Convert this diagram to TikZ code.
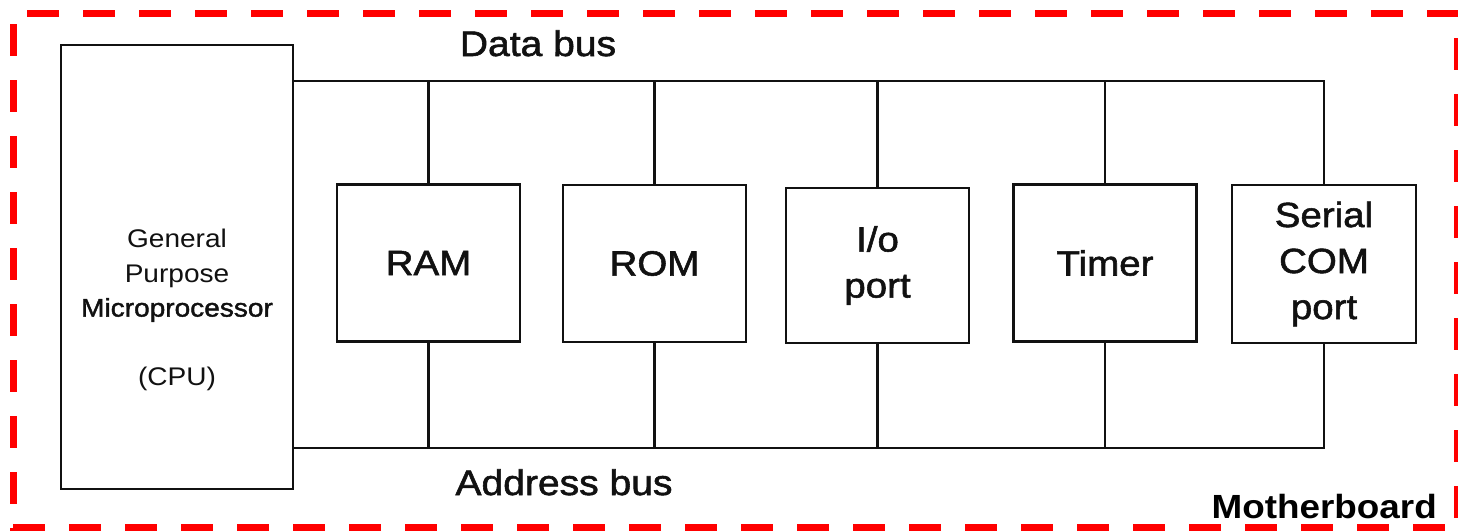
\documentclass[tikz,border=0pt]{standalone}
\usepackage{fontspec}
\setmainfont{Liberation Sans}[FakeStretch=1.1]
\newfontfamily\medfont{Liberation Sans}[FakeStretch=1.1, FakeBold=1.6]
\definecolor{ink}{HTML}{111111}
\definecolor{mbred}{HTML}{FF0000}
\begin{document}
\begin{tikzpicture}[x=1pt,y=-1pt,
  unit/.style={draw=ink, line width=2.6pt, minimum width=183pt, minimum height=157pt,
    inner sep=0pt, align=center, font=\medfont\fontsize{35}{46}\selectfont, text=ink},
  bus/.style={draw=ink, line width=2.2pt},
  frame/.style={draw=mbred, line width=7pt, dash pattern=on 32pt off 24pt},
  lbl/.style={text=ink, inner sep=0pt, font=\medfont\fontsize{35.5}{40}\selectfont}
]
\useasboundingbox (0,0) rectangle (1458,530);

% motherboard frame
\draw[frame] (27,13) -- (1460,13);
\draw[frame] (13,24) -- (13,532);
\draw[frame] (13,527) -- (1460,527);
\draw[frame] (1457,38) -- (1457,532);

% CPU
\node[draw=ink, line width=2.6pt, minimum width=232pt, minimum height=444pt, inner sep=0pt] (cpu) at (177,267) {};
\node[text=ink, align=center, inner sep=0pt, font=\fontsize{25.5}{34.5}\selectfont] (cpulbl) at (177,310)
  {General\\Purpose\\{\medfont Microprocessor}\\[34.5pt](CPU)};

% units
\node[unit] (ram) at (428.5,263) {RAM};
\node[unit] (rom) at (654.5,263.5) {ROM};
\node[unit, minimum height=155pt] (io) at (877.5,265.5) {I/o\\port};
\node[unit] (tim) at (1105,263) {Timer};
\node[unit, minimum width=184pt, minimum height=158pt] (ser) at (1324,264) {Serial\\COM\\port};

% bus levels
\coordinate (dbl) at (0,81);
\coordinate (abl) at (0,448);

% data bus
\draw[bus] (cpu.east |- dbl) -- (ser.north |- dbl) -- (ser.north);
\foreach \u in {ram,rom,io,tim}
  \draw[bus] (\u.north) -- (\u.north |- dbl);
% address bus
\draw[bus] (cpu.east |- abl) -- (ser.south |- abl) -- (ser.south);
\foreach \u in {ram,rom,io,tim}
  \draw[bus] (\u.south) -- (\u.south |- abl);

% labels
\node[lbl, anchor=base] (dblbl) at (538,56) {Data bus};
\node[lbl, anchor=base] (ablbl) at (564,495) {Address bus};
\node[lbl, anchor=base east, font=\fontsize{33.5}{38}\selectfont\bfseries, text=black] (mb) at (1437,518) {Motherboard};
\end{tikzpicture}
\end{document}
